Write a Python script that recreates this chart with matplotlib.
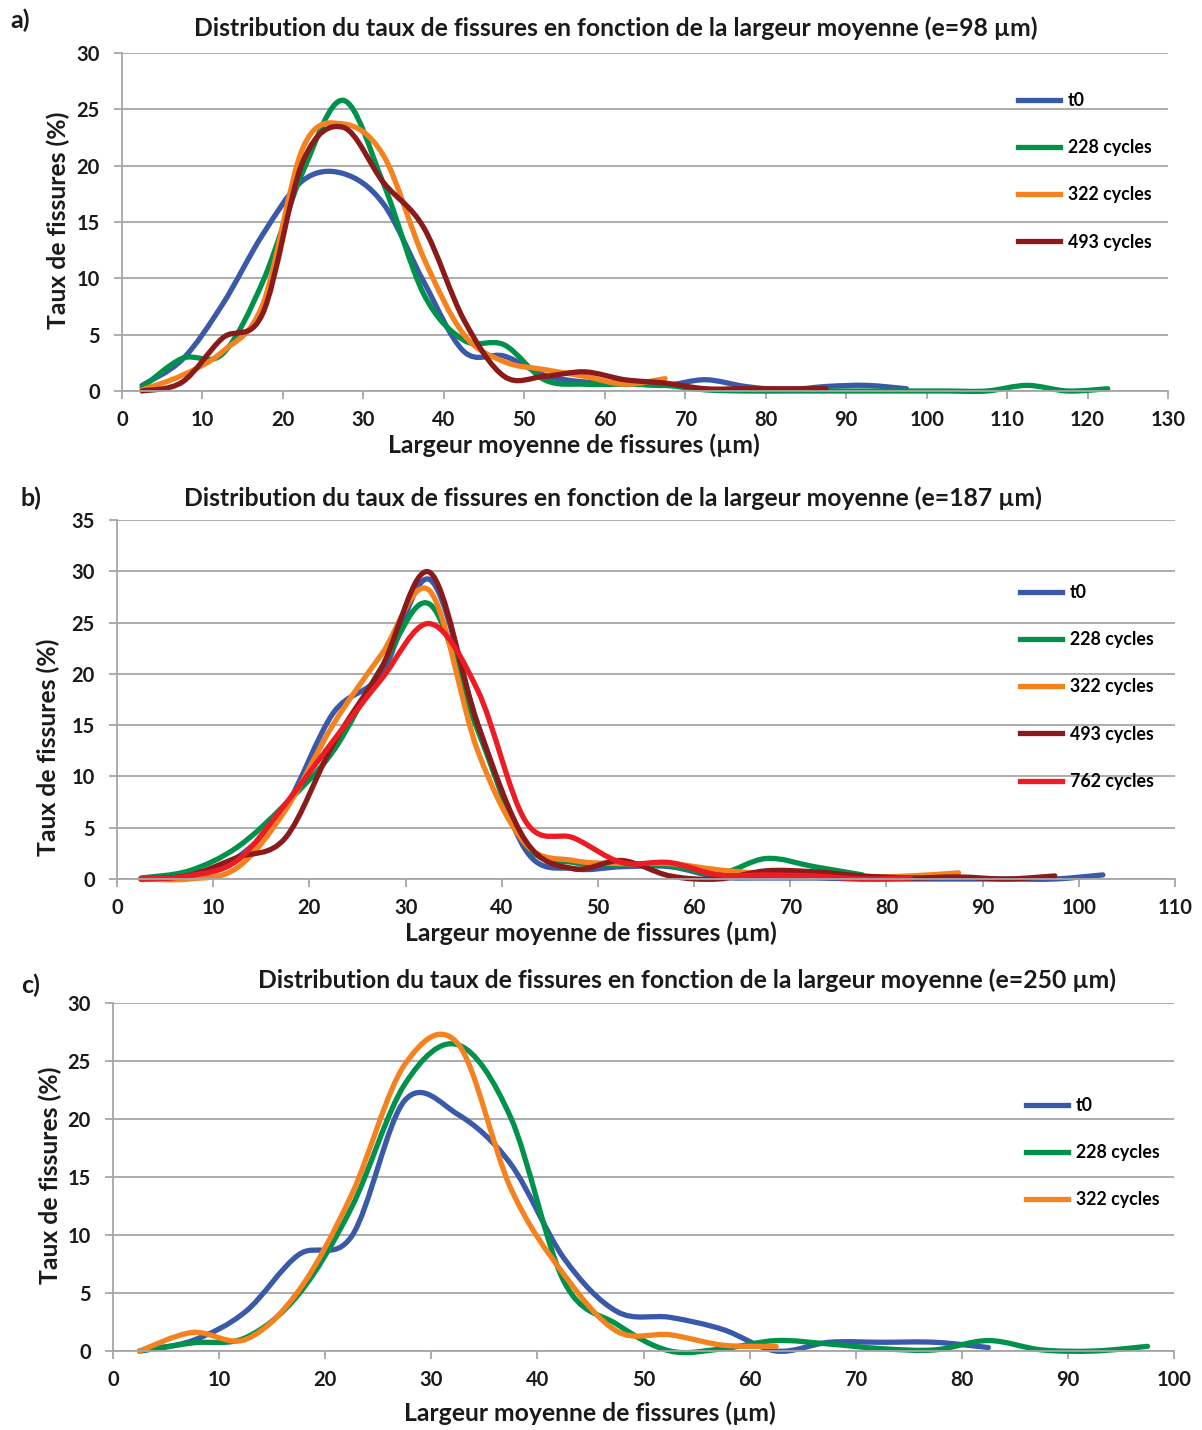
import numpy as np
import matplotlib
matplotlib.use("Agg")
import matplotlib.pyplot as plt
from matplotlib.path import Path
from matplotlib.patches import PathPatch
from matplotlib.lines import Line2D

plt.rcParams['font.family'] = ['Lato', 'DejaVu Sans']
plt.rcParams['font.weight'] = 'bold'

W, H = 1202, 1430

# largeur moyenne (centres des classes de 5 µm)
bins_a = [2.5 + 5 * i for i in range(25)]
t0_a = [0.5, 2.8, 7.7, 13.9, 18.7, 19.3, 16.6, 9.7, 3.5, 3.1, 1.4, 0.8, 0.7, 0.5, 1.0, 0.4, 0.1, 0.4, 0.5, 0.2]
c228_a = [0.3, 2.9, 3.3, 9.7, 19.5, 25.8, 18.4, 8.6, 4.5, 4.1, 1.0, 0.6, 0.6, 0.5, 0.1,
          0.0, 0.0, 0.0, 0.0, 0.0, 0.0, 0.0, 0.5, 0.0, 0.2]
c322_a = [0.1, 1.4, 3.5, 7.7, 21.6, 23.7, 20.9, 11.8, 5.0, 2.6, 1.9, 1.3, 0.6, 1.1]
c493_a = [0.0, 0.8, 4.7, 6.9, 20.4, 23.4, 18.5, 14.5, 6.3, 1.3, 1.3, 1.7, 1.0, 0.7, 0.2, 0.2, 0.2, 0.2]

bins_b = [2.5 + 5 * i for i in range(21)]
t0_b = [0.0, 0.4, 2.1, 7.0, 16.2, 20.0, 29.2, 15.1, 2.8, 1.0, 1.2, 1.2, 0.2, 0.1, 0.1, 0.0, 0.0, 0.0, 0.0, 0.0, 0.4]
c228_b = [0.1, 0.8, 3.1, 7.3, 12.5, 20.6, 26.8, 14.5, 3.4, 1.6, 1.4, 1.3, 0.5, 2.0, 1.2, 0.4]
c322_b = [0.0, 0.0, 1.1, 6.7, 15.1, 21.9, 28.1, 12.5, 3.4, 1.8, 1.5, 1.5, 0.9, 0.5, 0.3, 0.2, 0.3, 0.6]
c493_b = [0.0, 0.35, 2.1, 4.0, 13.2, 20.6, 29.9, 15.1, 3.7, 1.0, 1.8, 0.3, 0.0, 0.8, 0.7, 0.3, 0.1, 0.2, 0.0, 0.3]
c762_b = [0.0, 0.3, 1.8, 7.3, 13.5, 19.5, 24.9, 18.4, 5.6, 4.0, 1.6, 1.6, 0.4, 0.4, 0.3, 0.0, 0.1]

bins_c = [2.5 + 5 * i for i in range(20)]
t0_c = [0.0, 0.9, 3.4, 8.3, 9.9, 21.6, 20.4, 16.1, 8.0, 3.4, 2.9, 1.85, 0.0, 0.75, 0.75, 0.75, 0.3]
c228_c = [0.0, 0.7, 1.15, 4.9, 12.4, 23.0, 26.4, 20.1, 6.0, 2.3, 0.0, 0.2, 0.9, 0.6, 0.2, 0.1, 0.9, 0.1, 0.0, 0.4]
c322_c = [0.0, 1.6, 1.0, 5.2, 13.5, 24.7, 26.5, 14.0, 6.6, 1.7, 1.4, 0.5, 0.4]

col_t0 = '#3A59A8'
col_228 = '#00924A'
col_322 = '#F5821F'
col_493 = '#8B1A1A'
col_762 = '#ED1C24'


def px(x, y):
    return x / W, 1 - y / H


def smooth_path(xs, ys):
    # bezier facon Excel (lissage de courbe)
    pts = np.column_stack([xs, ys])
    n = len(pts)
    verts = [pts[0]]
    codes = [Path.MOVETO]
    for i in range(n - 1):
        p0 = pts[max(i - 1, 0)]
        p1 = pts[i]
        p2 = pts[i + 1]
        p3 = pts[min(i + 2, n - 1)]
        verts += [p1 + (p2 - p0) / 6, p2 - (p3 - p1) / 6, p2]
        codes += [Path.CURVE4] * 3
    return Path(verts, codes)


def make_panel(rect, xmax, ymax, series, title, tpos, letter, lpos, xlab_pos, ylab_pos, leg_pos):
    left, top, right, bottom = rect
    x0, y0 = px(left, bottom)
    x1, y1 = px(right, top)
    ax = fig.add_axes([x0, y0, x1 - x0, y1 - y0])
    ax.set_xlim(0, xmax)
    ax.set_ylim(0, ymax)
    ax.set_xticks(np.arange(0, xmax + 1, 10))
    ax.set_yticks(np.arange(0, ymax + 1, 5))
    ax.yaxis.grid(True, color='#A6A6A6', lw=1.3)
    ax.set_axisbelow(True)
    for s in ['top', 'right']:
        ax.spines[s].set_visible(False)
    for s in ['left', 'bottom']:
        ax.spines[s].set_color('#A6A6A6')
        ax.spines[s].set_linewidth(1.3)
    ax.tick_params(axis='both', colors='#A6A6A6', width=1.3, length=6, labelsize=14.5,
                   labelcolor='#1a1a1a')
    ax.tick_params(axis='x', pad=8)
    ax.tick_params(axis='y', pad=10)
    for lab in ax.get_xticklabels() + ax.get_yticklabels():
        lab.set_fontweight('bold')
    handles = []
    for xs, ys, c, name in series:
        p = smooth_path(xs[:len(ys)], ys)
        ax.add_patch(PathPatch(p, fill=False, edgecolor=c, lw=3.8, capstyle='round',
                               joinstyle='round', clip_on=False))
        handles.append(Line2D([], [], color=c, lw=3.8, label=name))
    ax.legend(handles=handles, loc='upper left', bbox_to_anchor=px(*leg_pos),
              bbox_transform=fig.transFigure, frameon=False,
              handlelength=2.35, handletextpad=0.45, labelspacing=1.7, borderaxespad=0,
              borderpad=0, prop={'weight': 'bold', 'size': 12.8})
    fig.text(*px(*tpos), title, ha='center', va='center', fontsize=17.8, fontweight='bold',
             color='#1a1a1a')
    fig.text(*px(*lpos), letter, ha='center', va='center', fontsize=18, fontweight='bold',
             color='#1a1a1a')
    fig.text(*px(*xlab_pos), 'Largeur moyenne de fissures (µm)', ha='center', va='center',
             fontsize=17.8, fontweight='bold', color='#1a1a1a')
    fig.text(*px(*ylab_pos), 'Taux de fissures (%)', ha='center', va='center', rotation=90,
             fontsize=17.8, fontweight='bold', color='#1a1a1a')
    return ax


fig = plt.figure(figsize=(W / 100, H / 100), dpi=100)

make_panel((122, 53, 1168, 391), 130, 30,
           [(bins_a, t0_a, col_t0, 't0'), (bins_a, c228_a, col_228, '228 cycles'),
            (bins_a, c322_a, col_322, '322 cycles'), (bins_a, c493_a, col_493, '493 cycles')],
           'Distribution du taux de fissures en fonction de la largeur moyenne (e=98 µm)',
           (616, 28), 'a)', (20, 20), (574, 445), (58, 220), (1018, 92))

make_panel((117, 520, 1175, 879), 110, 35,
           [(bins_b, t0_b, col_t0, 't0'), (bins_b, c228_b, col_228, '228 cycles'),
            (bins_b, c322_b, col_322, '322 cycles'), (bins_b, c493_b, col_493, '493 cycles'),
            (bins_b, c762_b, col_762, '762 cycles')],
           'Distribution du taux de fissures en fonction de la largeur moyenne (e=187 µm)',
           (613, 498), 'b)', (31, 498), (591, 933), (48, 747), (1020, 584))

make_panel((113, 1003, 1174, 1351), 100, 30,
           [(bins_c, t0_c, col_t0, 't0'), (bins_c, c228_c, col_228, '228 cycles'),
            (bins_c, c322_c, col_322, '322 cycles')],
           'Distribution du taux de fissures en fonction de la largeur moyenne (e=250 µm)',
           (687, 980), 'c)', (31, 985), (590, 1413), (50, 1175), (1026, 1097))

fig.savefig('out.png', dpi=100, facecolor='white')
